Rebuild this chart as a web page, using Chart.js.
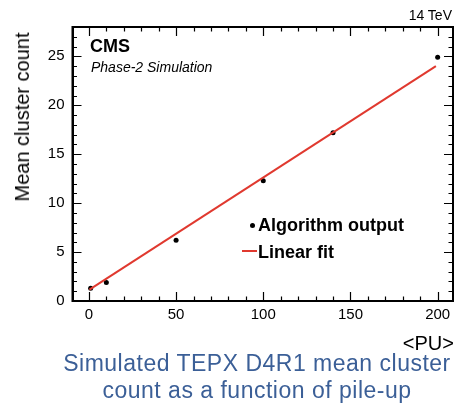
<!DOCTYPE html>
<html>
<head>
<meta charset="utf-8">
<script src="https://cdn.jsdelivr.net/npm/chart.js@4"></script>
<style>
  body { margin: 0; background: #fff; }
  #wrap { position: relative; width: 455px; height: 405px; font-family: "Liberation Sans", Arial, sans-serif; }
  #wrap canvas { position: absolute; left: 0; top: 0; }
  .txt { position: absolute; white-space: nowrap; color: #000; line-height: 1; }
  #frame { position: absolute; left: 71.5px; top: 26px; width: 382.5px; height: 276px; border: 2px solid #000; box-sizing: border-box; pointer-events: none; }
</style>
</head>
<body>
<div id="wrap">
  <canvas id="chart" width="455" height="405"></canvas>
  <div id="frame"></div>
  <div class="txt" style="right:3px; top:8px; font-size:14px;">14 TeV</div>
  <div class="txt" style="left:90px; top:37px; font-size:18px; font-weight:bold;">CMS</div>
  <div class="txt" style="left:91px; top:60px; font-size:14px; font-style:italic;">Phase-2 Simulation</div>
  <div class="txt" style="left:22px; top:117px; font-size:20px; transform:translate(-50%,-50%) rotate(-90deg);">Mean cluster count</div>
  <div class="txt" style="right:1px; top:333px; font-size:20px;">&lt;PU&gt;</div>
  <!-- 图例 -->
  <div style="position:absolute; left:250px; top:223px; width:5px; height:5px; border-radius:50%; background:#000;"></div>
  <div class="txt" style="left:258px; top:216px; font-size:18px; font-weight:bold;">Algorithm output</div>
  <div style="position:absolute; left:242px; top:250px; width:15px; height:2px; background:#e0392f;"></div>
  <div class="txt" style="left:258px; top:243px; font-size:18px; font-weight:bold;">Linear fit</div>
  <!-- 说明文字 -->
  <div class="txt" style="left:0; width:514px; top:350px; font-size:23px; letter-spacing:0.5px; text-align:center; color:#3b5f97; line-height:27px;">Simulated TEPX D4R1 mean cluster<br>count as a function of pile-up</div>
  <div id="log" style="display:none;"></div>
</div>
<script>
const log = m => { document.getElementById('log').textContent += ' | ' + m; };
window.onerror = function (msg) { log(msg); };

// 数据
const puValues = [1, 10, 50, 100, 140, 200];
const meanClusters = [1.3, 1.9, 6.2, 12.3, 17.2, 24.9];

// 线性拟合端点
const fitPu = [0.3, 199];
const fitClusters = [1.17, 24.0];

// 刻度
const xTicks = [0, 50, 100, 150, 200];
const yTicks = [0, 5, 10, 15, 20, 25];
const xMinor = [10, 20, 30, 40, 60, 70, 80, 90, 110, 120, 130, 140, 160, 170, 180, 190];
const yMinor = [1, 2, 3, 4, 6, 7, 8, 9, 11, 12, 13, 14, 16, 17, 18, 19, 21, 22, 23, 24, 26, 27];

// ROOT 风格的边框和内向刻度
const frameTicks = {
    id: 'frameTicks',
    afterDraw(chart) {
        try {
            const g = chart.ctx;
            const a = chart.chartArea;
            const xs = chart.scales.x;
            const ys = chart.scales.y;
            g.save();
            g.strokeStyle = '#000';
            g.lineWidth = 2;
            g.strokeRect(a.left, a.top, a.right - a.left, a.bottom - a.top);
            log('rect');
            const xMark = (v, len) => {
                const px = Math.round(xs.getPixelForValue(v)) + 0.5;
                g.beginPath();
                g.moveTo(px, a.bottom); g.lineTo(px, a.bottom - len);
                g.moveTo(px, a.top); g.lineTo(px, a.top + len);
                g.stroke();
            };
            const yMark = (v, len) => {
                const py = Math.round(ys.getPixelForValue(v)) + 0.5;
                g.beginPath();
                g.moveTo(a.left, py); g.lineTo(a.left + len, py);
                g.moveTo(a.right, py); g.lineTo(a.right - len, py);
                g.stroke();
            };
            g.lineWidth = 1.2;
            xTicks.forEach(v => xMark(v, 9));
            xMinor.forEach(v => xMark(v, 4.5));
            yTicks.forEach(v => yMark(v, 9));
            yMinor.forEach(v => yMark(v, 4.5));
            log('ticks');
            g.restore();
        } catch (e) { log('ERR ' + e.message); }
    }
};

try {
new Chart(document.getElementById('chart'), {
    type: 'scatter',
    data: {
        datasets: [{
            label: 'Linear fit',
            data: fitPu.map((x, i) => ({ x: x, y: fitClusters[i] })),
            showLine: true,
            borderColor: '#e0392f',
            borderWidth: 2,
            pointRadius: 0
        }, {
            label: 'Algorithm output',
            data: puValues.map((x, i) => ({ x: x, y: meanClusters[i] })),
            backgroundColor: '#000',
            borderColor: '#000',
            pointRadius: 2.5,
            borderWidth: 0
        }]
    },
    options: {
        responsive: false,
        animation: false,
        layout: { autoPadding: false, padding: { top: 27, right: 2, bottom: 74, left: 0 } },
        plugins: { legend: { display: false }, tooltip: { enabled: false } },
        scales: {
            x: {
                type: 'linear', min: -9.4, max: 208.8,
                grid: { display: false },
                border: { display: false },
                afterFit: s => { s.height = 30; },
                afterBuildTicks: s => { s.ticks = xTicks.map(v => ({ value: v })); },
                ticks: { color: '#000', padding: -3, maxRotation: 0, font: { family: 'Liberation Sans', size: 15 } }
            },
            y: {
                type: 'linear', min: 0, max: 28,
                grid: { display: false },
                border: { display: false },
                afterFit: s => { s.width = 72.5; },
                afterBuildTicks: s => { s.ticks = yTicks.map(v => ({ value: v })); },
                ticks: { color: '#000', padding: 0, font: { family: 'Liberation Sans', size: 15 } }
            }
        }
    },
    plugins: [frameTicks]
});
log('created');
} catch (e) { log('CERR ' + e.message); }
</script>
</body>
</html>
